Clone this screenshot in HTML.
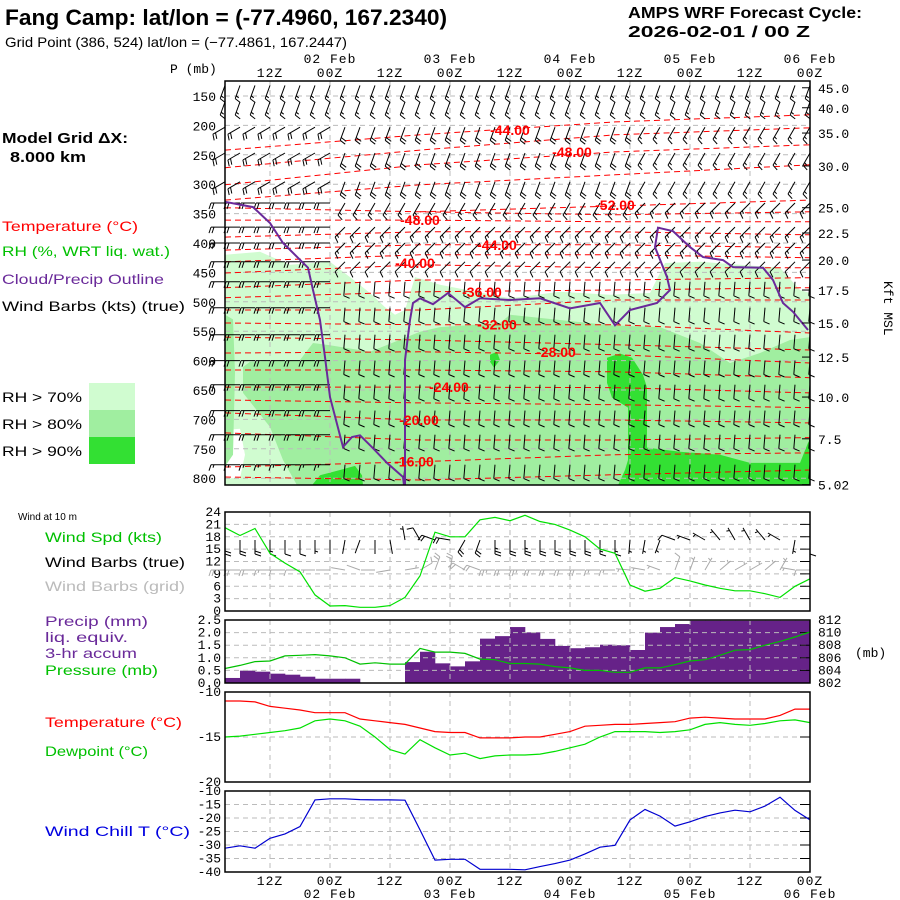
<!DOCTYPE html>
<html><head><meta charset="utf-8">
<style>
body{margin:0;background:#fff}
svg{display:block}
text{font-family:"Liberation Sans",sans-serif}
.m{font-family:"Liberation Mono",monospace;font-size:13px}
.lg{font-size:14px}
</style></head><body>
<svg id="c" width="900" height="900" viewBox="0 0 900 900" xmlns="http://www.w3.org/2000/svg">
<rect x="0" y="0" width="900" height="900" fill="#fff"/>
<text x="5" y="25" font-size="22" font-weight="bold" textLength="442" lengthAdjust="spacingAndGlyphs">Fang Camp:  lat/lon = (-77.4960, 167.2340)</text>
<text x="5" y="47" font-size="14" textLength="342" lengthAdjust="spacingAndGlyphs">Grid Point (386, 524) lat/lon = (−77.4861, 167.2447)</text>
<text x="628" y="18" font-size="16" font-weight="bold" textLength="234" lengthAdjust="spacingAndGlyphs">AMPS WRF Forecast Cycle:</text>
<text x="628" y="37" font-size="16" font-weight="bold" textLength="182" lengthAdjust="spacingAndGlyphs">2026-02-01 / 00  Z</text>
<text x="2" y="143" font-size="15" font-weight="bold" textLength="126" lengthAdjust="spacingAndGlyphs">Model Grid ΔX:</text>
<text x="10" y="162" font-size="15" font-weight="bold" textLength="76" lengthAdjust="spacingAndGlyphs">8.000 km</text>
<text class="lg" x="2" y="231" fill="#f00" textLength="136" lengthAdjust="spacingAndGlyphs">Temperature (°C)</text>
<text class="lg" x="2" y="256" fill="#00c000" textLength="168" lengthAdjust="spacingAndGlyphs">RH (%, WRT liq. wat.)</text>
<text class="lg" x="2" y="284" fill="#6a2a9a" textLength="162" lengthAdjust="spacingAndGlyphs">Cloud/Precip Outline</text>
<text class="lg" x="2" y="311" fill="#000" textLength="183" lengthAdjust="spacingAndGlyphs">Wind Barbs (kts) (true)</text>
<text class="lg" x="2" y="402" textLength="80" lengthAdjust="spacingAndGlyphs">RH &gt; 70%</text>
<text class="lg" x="2" y="429" textLength="80" lengthAdjust="spacingAndGlyphs">RH &gt; 80%</text>
<text class="lg" x="2" y="456" textLength="80" lengthAdjust="spacingAndGlyphs">RH &gt; 90%</text>
<rect x="89" y="383" width="46" height="27" fill="#d0fcd0"/>
<rect x="89" y="410" width="46" height="27" fill="#a0eea0"/>
<rect x="89" y="437" width="46" height="27" fill="#33e033"/>
<text x="18" y="520" font-size="10">Wind at 10 m</text>
<text class="lg" x="45" y="542" fill="#00c000" textLength="117" lengthAdjust="spacingAndGlyphs">Wind Spd (kts)</text>
<text class="lg" x="45" y="567" textLength="140" lengthAdjust="spacingAndGlyphs">Wind Barbs (true)</text>
<text class="lg" x="45" y="591" fill="#bbb" textLength="140" lengthAdjust="spacingAndGlyphs">Wind Barbs (grid)</text>
<text class="lg" x="45" y="626" fill="#6a2a9a" textLength="103" lengthAdjust="spacingAndGlyphs">Precip (mm)</text>
<text class="lg" x="45" y="642" fill="#6a2a9a" textLength="83" lengthAdjust="spacingAndGlyphs">liq. equiv.</text>
<text class="lg" x="45" y="658" fill="#6a2a9a" textLength="92" lengthAdjust="spacingAndGlyphs">3-hr accum</text>
<text class="lg" x="45" y="675" fill="#00c000" textLength="113" lengthAdjust="spacingAndGlyphs">Pressure (mb)</text>
<text class="lg" x="45" y="727" fill="#f00" textLength="137" lengthAdjust="spacingAndGlyphs">Temperature (°C)</text>
<text class="lg" x="45" y="756" fill="#00c000" textLength="103" lengthAdjust="spacingAndGlyphs">Dewpoint (°C)</text>
<text class="lg" x="45" y="836" fill="#0000e0" textLength="145" lengthAdjust="spacingAndGlyphs">Wind Chill T (°C)</text>
<text class="m" x="170" y="73">P (mb)</text>
<text class="m" x="855" y="657" font-size="15">(mb)</text>
<text class="m" x="884" y="281" transform="rotate(90 884 281)">Kft MSL</text>
<g id="layer"></g>
</svg>
<script>
// ---------- data ----------
const windSpd = [20.2,18.3,20.0,14.0,11.6,9.5,3.9,1.2,1.3,0.9,0.9,1.3,3.3,8.5,19.1,18.0,18.0,22.1,22.7,21.9,23.2,21.7,21.0,19.6,18.0,15.0,14.0,6.3,4.8,5.5,8.1,7.3,6.3,5.5,4.9,4.9,4.2,3.3,6.0,7.8];
const surfDir = [180,180,180,180,180,180,180,180,190,200,180,170,350,330,290,280,210,200,180,180,180,180,180,180,180,180,180,185,190,200,290,290,300,320,330,330,320,300,190,180];
const precip = [0.2,0.49,0.45,0.37,0.33,0.25,0.17,0.17,0.17,0,0,0,0.83,1.24,0.78,0.66,0.86,1.76,1.86,2.22,2.01,1.75,1.47,1.38,1.42,1.52,1.50,1.31,2.0,2.22,2.34,2.47,2.47,2.47,2.47,2.47,2.47,2.47,2.47];
const pressure = [804.3,804.8,805.4,805.5,806.3,806.4,806.5,806.3,806.0,805.0,805.2,805.0,805.0,807.5,806.9,806.9,806.7,805.8,805.7,805.1,805.1,805.0,804.6,804.4,804.0,804.0,803.7,803.7,804.4,804.4,804.9,805.5,805.7,806.4,807.2,807.3,808.0,808.6,809.3,810.1];
const tempC = [-11.0,-11.0,-11.1,-11.6,-11.8,-12.0,-12.3,-12.3,-12.3,-13.0,-13.2,-13.4,-13.6,-14.0,-14.4,-14.5,-14.5,-15.1,-15.1,-15.1,-15.0,-15.0,-14.7,-14.4,-13.8,-13.7,-13.6,-13.6,-13.5,-13.4,-13.3,-12.9,-12.8,-12.9,-13.0,-13.0,-13.0,-12.6,-11.9,-11.9];
const dewC = [-15.0,-14.9,-14.7,-14.5,-14.3,-14.0,-13.2,-13.0,-13.2,-13.8,-15.0,-16.4,-16.9,-15.3,-16.2,-17.0,-16.8,-17.4,-17.1,-17.0,-17.0,-16.9,-16.6,-16.2,-15.8,-15.0,-14.4,-14.4,-14.4,-14.5,-14.4,-14.2,-13.6,-13.4,-13.6,-13.7,-13.5,-13.2,-13.1,-13.4];
const chillC = [-31.2,-30.3,-31.2,-27.5,-25.9,-23.2,-13.3,-12.9,-12.9,-13.2,-13.3,-13.3,-13.4,-24.4,-35.6,-35.3,-35.3,-39.0,-39.0,-39.0,-39.2,-38.0,-36.9,-35.6,-33.3,-30.8,-30.1,-20.7,-16.8,-19.3,-23.0,-21.4,-19.5,-18.1,-17.1,-17.7,-15.6,-12.3,-17.2,-20.7];

const timeLabels = ["12Z","00Z","12Z","00Z","12Z","00Z","12Z","00Z","12Z","00Z"];
const timeLabelHours = [9,21,33,45,57,69,81,93,105,117];
const dateLabels = ["02 Feb","03 Feb","04 Feb","05 Feb","06 Feb"];
const dateLabelHours = [21,45,69,93,117];
const pTicks = [150,200,250,300,350,400,450,500,550,600,650,700,750,800];
const kftLabels = ["45.0","40.0","35.0","30.0","25.0","22.5","20.0","17.5","15.0","12.5","10.0","7.5","5.02"];
const kftP = [136,170,213,269,340,383,429,480,536,594,662,733,811];
const windTicks = [0,3,6,9,12,15,18,21,24];
const precipTicks = [0,0.5,1.0,1.5,2.0,2.5];
const presTicks = [802,804,806,808,810,812];
const tempTicks = [-20,-15,-10];
const chillTicks = [-40,-35,-30,-25,-20,-15,-10];

const rh70 = [[0,420],[7,415],[13,437],[21,432],[25,458],[29,485],[32,509],[34,522],[36,514],[38,458],[40,463],[43,471],[57,494],[67,483],[77,488],[85,485],[88,434],[95,432],[111,442],[115,480],[117,485],[117,812],[0,812]];
const rhHole = [[0,718],[3,716],[4,760],[3,800],[0,800]];
const rh80 = [[3.6,611],[5,602],[15,599],[17.6,570],[21,574],[29,585],[39,551],[43,543],[55,536],[57,522],[67,531],[77,540],[87,543],[95,570],[101,604],[107,587],[113,565],[117,560],[117,812],[14.4,812],[11.6,769],[9,713],[3.6,655]];
const rh80b = [[0,522],[1.6,530],[2,620],[1.6,760],[0,780]];
const rh90a = [[17.4,812],[19,795],[23,786],[26,779],[27.4,795],[27.6,812]];
const rh90b = [[53,590],[54.4,585],[55,599],[53.8,612],[53,602]];
const rh90c = [[76.4,595],[79,588],[81.4,595],[83.6,624],[84.4,646],[84.4,748],[91,755],[99,760],[105,774],[115,774],[116.6,740],[117,735],[117,812],[78.6,812],[80,786],[80.6,769],[80.6,680],[77.4,663],[76.4,638]];
const cloud1 = [[0,330],[5.6,339],[9,366],[11.6,400],[16.6,442],[17.6,480],[19,531],[20,594],[21,662],[23.6,747],[25.4,730],[27,727],[29.6,749],[32.4,774],[35.6,798],[35.8,812]];
const cloud2 = [[36,812],[36,599],[37,531],[37.6,502],[39,494],[41.6,504],[44.6,485],[48,509],[51,494],[57,497],[63,494],[69,511],[75,502],[78,540],[81,514],[86.4,502],[89,480],[88.4,458],[86,407],[86.6,374],[89.6,380],[93,407],[95.6,424],[99.6,429],[101.6,441],[107.6,442],[109.6,463],[111.6,502],[113.6,517],[116.6,548]];

const contourHours = [0,39,78,117];
const contourT = [-44,-46,-48,-50,-52,-50,-48,-46,-44,-42,-40,-38,-36,-34,-32,-30,-28,-26,-24,-22,-20,-18,-16,-14];
const contourP = [
 [242,216,194,182],[272,242,216,204],[301,267,245,233],[327,301,284,267],[NaN,347,337,327],
 [340,347,352,347],[361,361,364,364],[390,381,381,386],[412,403,403,408],[432,420,420,425],
 [451,437,442,442],[476,463,463,459],[493,483,480,476],[514,514,497,497],[536,539,539,553],
 [560,565,573,582],[587,585,590,604],[616,616,619,629],[645,645,646,655],[667,672,675,680],
 [689,701,701,706],[723,735,735,731],[781,772,760,757],[798,803,794,786]];
const labelT = ["-44.00","-48.00","-52.00","-48.00","-44.00","-40.00","-36.00","-32.00","-28.00","-24.00","-20.00","-16.00"];
const labelH = [57,69.4,78,39,54.4,38,51.4,54.4,66.2,44.8,38.8,37.8];
const labelP = [208,245,335,361,403,434,483,539,585,645,701,772];

const windLevels = [132,160,203,247,296,332,373,400,432,466,510,556,600,641,685,726,777];
const dirEarly = [200,200,240,240,240,270,270,270,270,270,270,270,270,270,270,270,270];
const spdEarly = [15,15,20,20,20,20,20,20,20,20,20,20,20,20,20,20,15];
const dirMid = [200,200,200,200,200,210,225,225,225,185,185,185,185,185,185,185,185];
const spdMid = [15,15,20,20,20,15,15,15,10,10,10,10,10,10,10,10,10];
const dirLate = [200,200,210,210,210,225,225,225,225,185,185,185,185,185,185,185,185];
const spdLate = [15,15,15,15,15,15,15,15,10,10,10,10,10,10,10,10,10];

// ---------- scales ----------
const X0 = 225, X1 = 810;
const xH = h => X0 + (X1 - X0) * h / 117;
const xI = i => xH(3 * i);
const yP = p => 96 + (p - 150) * 0.588;
const yWind = v => 611 - v * 99 / 24;
const yPrec = v => 683 - v * 63 / 2.5;
const yPres = v => 683 - (v - 802) * 63 / 10;
const yTemp = v => 692 + (-10 - v) * 90 / 10;
const yChill = v => 791 + (-10 - v) * 81 / 30;

const NS = "http://www.w3.org/2000/svg";
const layer = document.getElementById('layer');
function mk(tag, attrs, parent) {
  const e = document.createElementNS(NS, tag);
  for (const k in attrs) e.setAttribute(k, attrs[k]);
  (parent || layer).appendChild(e);
  return e;
}
function grp(name) {
  const g = mk('g', {});
  
  
  return g;
}
const poly = pts => pts.map(q => xH(q[0]).toFixed(1) + ',' + yP(q[1]).toFixed(1)).join(' ');

// ---------- main panel ----------
const rhG = grp('rh-shading');
[[rh70,'#d0fcd0','rh-70-region'],[rhHole,'#ffffff','rh-dry-patch'],[rh80,'#a0eea0','rh-80-region'],[rh80b,'#a0eea0','rh-80-strip'],[rh90a,'#33e033','rh-90-blob'],[rh90b,'#33e033','rh-90-blob'],[rh90c,'#33e033','rh-90-region']].forEach(r => {
  const e = mk('polygon', {points: poly(r[0]), fill: r[1]}, rhG);
  
  
});

const gridG = grp('main-grid');
pTicks.forEach(p => {
  const e = mk('line', {x1: X0, x2: X1, y1: yP(p), y2: yP(p), stroke: '#bbb', 'stroke-dasharray': '5,4'}, gridG);
  
  
  const t = mk('text', {x: 216, y: yP(p) + 5, 'text-anchor': 'end', class: 'm', 'font-size': 14}, gridG);
  t.textContent = p;
  
  
});
function vgrid(g, y1, y2) {
  timeLabelHours.forEach(h => {
    if (h >= 117) return;
    const e = mk('line', {x1: xH(h), x2: xH(h), y1: y1, y2: y2, stroke: '#bbb', 'stroke-dasharray': '5,4'}, g);
    
    
  });
}
vgrid(gridG, 81, 485);

const ctG = grp('temperature-contours');
contourT.forEach((t, ci) => {
  const pts = [];
  contourHours.forEach((h, k) => { const p = contourP[ci][k]; if (!isNaN(p)) pts.push(xH(h).toFixed(1) + ',' + yP(p).toFixed(1)); });
  const e = mk('polyline', {points: pts.join(' '), fill: 'none', stroke: '#f00', 'stroke-dasharray': '6,4', 'stroke-width': 1}, ctG);
  
  
});

function barb(g, x, y, dir, spd, color) {
  const r = dir * Math.PI / 180, vx = Math.sin(r), vy = -Math.cos(r);
  const L = 14, ex = x + vx * L, ey = y + vy * L, px = vy, py = -vx;
  let d = `M${x.toFixed(1)} ${y.toFixed(1)}L${ex.toFixed(1)} ${ey.toFixed(1)}`;
  let s = Math.round(spd / 5) * 5, k = 0;
  while (s >= 10) {
    const bx = ex - vx * k * 3, by = ey - vy * k * 3;
    d += `M${bx.toFixed(1)} ${by.toFixed(1)}l${(px * 6 + vx * 2).toFixed(1)} ${(py * 6 + vy * 2).toFixed(1)}`;
    s -= 10; k++;
  }
  if (s >= 5) {
    const bx = ex - vx * (k === 0 ? 3 : k * 3), by = ey - vy * (k === 0 ? 3 : k * 3);
    d += `M${bx.toFixed(1)} ${by.toFixed(1)}l${(px * 3 + vx).toFixed(1)} ${(py * 3 + vy).toFixed(1)}`;
  }
  return mk('path', {d: d, stroke: color, fill: 'none', 'stroke-width': 1}, g);
}
const barbG = grp('upper-wind-barbs');
windLevels.forEach((p, li) => {
  for (let i = 0; i < 40; i++) {
    const h = 3 * i;
    const dir = h < 24 ? dirEarly[li] : (h < 84 ? dirMid[li] : dirLate[li]);
    const spd = h < 24 ? spdEarly[li] : (h < 84 ? spdMid[li] : spdLate[li]);
    const e = barb(barbG, xH(h), yP(p), dir, spd, '#000');
    
    
  }
});

const cl = grp('cloud-outline');
[cloud1, cloud2].forEach(c => {
  const e = mk('polyline', {points: poly(c), fill: 'none', stroke: '#6a2a9a', 'stroke-width': 2}, cl);
  
  
});

const lblG = grp('contour-labels');
labelT.forEach((t, i) => {
  const e = mk('text', {x: xH(labelH[i]), y: yP(labelP[i]) + 5, 'text-anchor': 'middle', fill: '#f00', 'font-size': 14, 'font-weight': 'bold'}, lblG);
  e.textContent = t;
  
  
});

const axG = grp('main-axes');
let fr = mk('rect', {x: X0, y: 81, width: X1 - X0, height: 404, fill: 'none', stroke: '#000', 'stroke-width': 1.5}, axG);


kftLabels.forEach((k, i) => {
  const e = mk('line', {x1: X1 - 8, x2: X1, y1: yP(kftP[i]), y2: yP(kftP[i]), stroke: '#000'}, axG);
  
  
  const t = mk('text', {x: 818, y: yP(kftP[i]) + 5, class: 'm'}, axG);
  t.textContent = k;
  
  
});
timeLabels.forEach((s, i) => {
  const t = mk('text', {x: xH(timeLabelHours[i]), y: 77, 'text-anchor': 'middle', class: 'm', 'letter-spacing': 1}, axG);
  t.textContent = s;
  
  
  const b = mk('text', {x: xH(timeLabelHours[i]), y: 885, 'text-anchor': 'middle', class: 'm', 'letter-spacing': 1}, axG);
  b.textContent = s;
  
  
});
dateLabels.forEach((s, i) => {
  const t = mk('text', {x: xH(dateLabelHours[i]), y: 63, 'text-anchor': 'middle', class: 'm', 'letter-spacing': 1}, axG);
  t.textContent = s;
  
  
  const b = mk('text', {x: xH(dateLabelHours[i]), y: 898, 'text-anchor': 'middle', class: 'm', 'letter-spacing': 1}, axG);
  b.textContent = s;
  
  
});

// ---------- lower panels ----------
function panel(name, top, bot, ticks, yf, fmt, gridTicks, rightTicks) {
  const g = grp(name);
  vgrid(g, top, bot);
  gridTicks.forEach(v => {
    const e = mk('line', {x1: X0, x2: X1, y1: yf(v), y2: yf(v), stroke: '#bbb', 'stroke-dasharray': '5,4'}, g);
    
    
  });
  ticks.forEach(v => {
    const t = mk('text', {x: 221, y: yf(v) + 4, 'text-anchor': 'end', class: 'm', 'font-size': 12}, g);
    t.textContent = fmt(v);
    
    
  });
  if (rightTicks) rightTicks.forEach(v => {
    const e = mk('line', {x1: X1 - 10, x2: X1, y1: yf(v), y2: yf(v), stroke: '#000'}, g);
    
    
  });
  return g;
}
function frame(g, top, bot) {
  const e = mk('rect', {x: X0, y: top, width: X1 - X0, height: bot - top, fill: 'none', stroke: '#000', 'stroke-width': 1.5}, g);
  
  
}
function line(g, arr, yf, color, name) {
  const e = mk('polyline', {points: arr.map((v, i) => xI(i).toFixed(1) + ',' + yf(v).toFixed(1)).join(' '), fill: 'none', stroke: color, 'stroke-width': 1.2}, g);
  
  
}

const wG = panel('wind-panel', 512, 611, windTicks, yWind, v => v, [3,6,9,12,15,18,21], [3,6,9,12,15,18,21]);
windSpd.forEach((s, i) => {
  const e = barb(wG, xI(i), 540, surfDir[i], s, '#000');
  
  
  const g2 = barb(wG, xI(i), 570, surfDir[i] + 90, s, '#aaa');
  
  
});
line(wG, windSpd, yWind, '#00e000', 'wind-speed-line');
frame(wG, 512, 611);

const pG = grp('precip-panel');
precip.forEach((v, i) => {
  if (v <= 0) return;
  const e = mk('rect', {x: xI(i), y: yPrec(v), width: xI(i + 1) - xI(i) + 0.3, height: 683 - yPrec(v), fill: '#662288'}, pG);
  
  
});
const pG2 = panel('precip-axes', 620, 683, precipTicks, yPrec, v => v.toFixed(1), [0.5,1.0,1.5,2.0], null);
presTicks.forEach(v => {
  const e = mk('line', {x1: X1 - 10, x2: X1, y1: yPres(v), y2: yPres(v), stroke: '#000'}, pG2);
  
  
  const t = mk('text', {x: 818, y: yPres(v) + 4, class: 'm', 'font-size': 12}, pG2);
  t.textContent = v;
  
  
});
line(pG2, pressure, yPres, '#00c000', 'pressure-line');
frame(pG2, 620, 683);

const tG = panel('temperature-panel', 692, 782, tempTicks, yTemp, v => v, [-15], [-15]);
line(tG, tempC, yTemp, '#f00', 'temperature-line');
line(tG, dewC, yTemp, '#00e000', 'dewpoint-line');
frame(tG, 692, 782);

const cG = panel('wind-chill-panel', 791, 872, chillTicks, yChill, v => v, [-15,-20,-25,-30,-35], [-15,-20,-25,-30,-35]);
line(cG, chillC, yChill, '#0000d0', 'wind-chill-line');
frame(cG, 791, 872);
</script>
</body></html>
